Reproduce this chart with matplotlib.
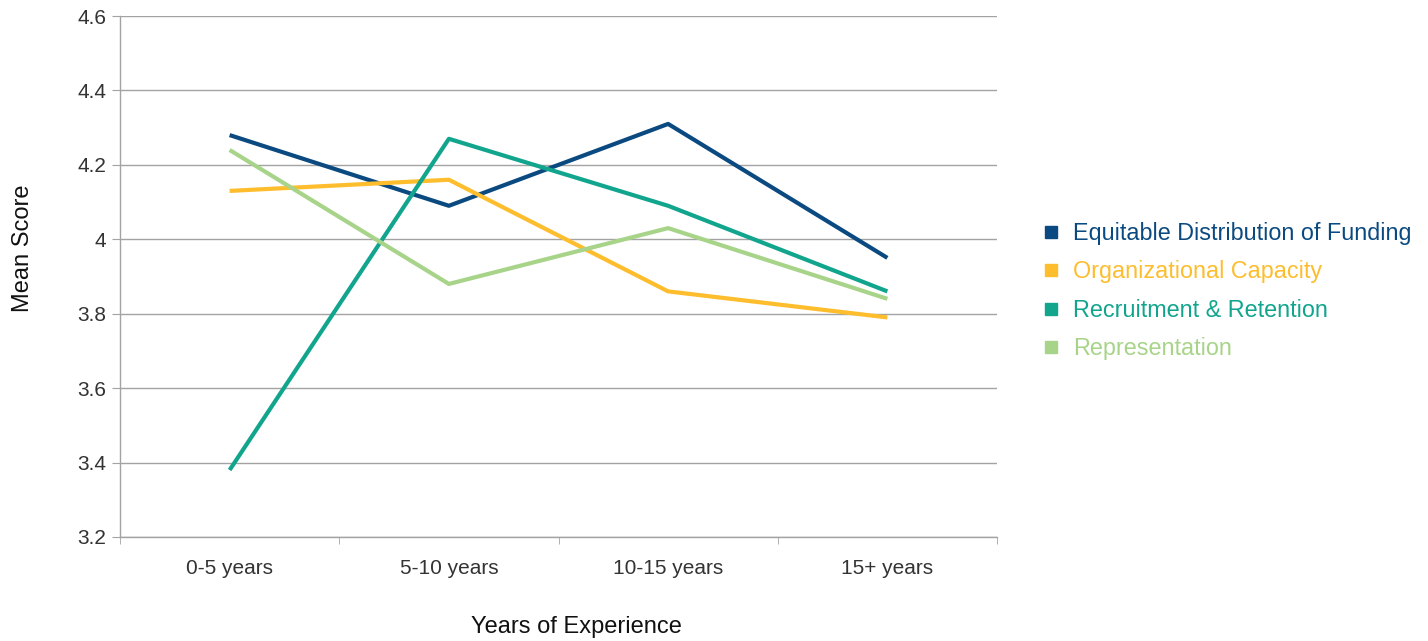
import matplotlib
matplotlib.use("Agg")
import matplotlib.pyplot as plt
from matplotlib.lines import Line2D

plt.rcParams['font.family'] = ['Liberation Sans', 'DejaVu Sans']

categories = ["0-5 years", "5-10 years", "10-15 years", "15+ years"]
series_names = [
    "Equitable Distribution of Funding",
    "Organizational Capacity",
    "Recruitment & Retention",
    "Representation",
]
equitable = [4.28, 4.09, 4.31, 3.95]
organizational = [4.13, 4.16, 3.86, 3.79]
recruitment = [3.38, 4.27, 4.09, 3.86]
representation = [4.24, 3.88, 4.03, 3.84]
y_ticks = [3.2, 3.4, 3.6, 3.8, 4.0, 4.2, 4.4, 4.6]
y_tick_labels = ["3.2", "3.4", "3.6", "3.8", "4", "4.2", "4.4", "4.6"]

colors = ["#0b4a80", "#fdbd2c", "#12a58e", "#a8d48a"]
values = [equitable, organizational, recruitment, representation]

fig = plt.figure(figsize=(14.28, 6.41), dpi=100)
ax = fig.add_axes([120 / 1428, 1 - 537 / 641, (997 - 120) / 1428, (537 - 16) / 641])

x = list(range(len(categories)))
for name, vals, c in zip(series_names, values, colors):
    ax.plot(x, vals, color=c, linewidth=3.0, solid_capstyle="butt", zorder=3)

grid_c = "#a3a3a3"
ax.set_xlim(-0.5, len(categories) - 0.5)
ax.set_ylim(3.2, 4.6)
ax.set_yticks(y_ticks)
ax.set_yticklabels(y_tick_labels)
ax.yaxis.grid(True, color=grid_c, linewidth=1.0)
ax.set_axisbelow(True)

ax.set_xticks(x)
ax.set_xticklabels(categories)
ax.set_xticks([i - 0.5 for i in range(len(categories) + 1)], minor=True)
ax.tick_params(axis="x", which="major", length=0, pad=16, labelsize=15, labelcolor="#333333")
ax.tick_params(axis="x", which="minor", length=5, color=grid_c, direction="out")
ax.tick_params(axis="y", which="major", length=6, color=grid_c, labelsize=15,
               labelcolor="#333333", pad=4)

for s in ["top", "right"]:
    ax.spines[s].set_visible(False)
for s in ["left", "bottom"]:
    ax.spines[s].set_color(grid_c)
    ax.spines[s].set_linewidth(1.0)

ax.set_ylabel("Mean Score", fontsize=17, color="#111111")
ax.yaxis.set_label_coords(-0.098, 0.555)
ax.set_xlabel("Years of Experience", fontsize=17, color="#111111")
ax.xaxis.set_label_coords(0.52, -0.152)

handles = [Line2D([], [], marker="s", linestyle="none", markersize=9,
                  markerfacecolor=c, markeredgecolor=c) for c in colors]
leg = fig.legend(handles, series_names, loc="center left",
                 bbox_to_anchor=(1018 / 1428, 1 - 291 / 641),
                 frameon=False, fontsize=16.8, handletextpad=0.45,
                 labelspacing=0.66, handlelength=1.0,
                 labelcolor=colors)

fig.savefig("out.png", dpi=100)
